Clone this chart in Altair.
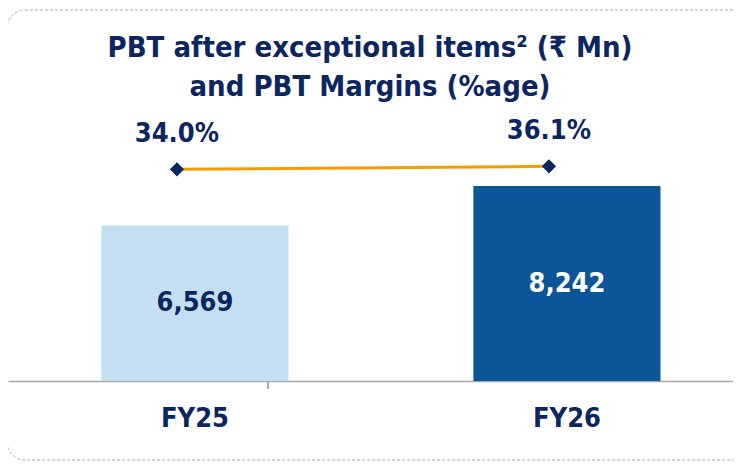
import altair as alt
import pandas as pd

years = ["FY25", "FY26"]
pbt = [6569, 8242]
pbt_labels = ["6,569", "8,242"]
margins = [34.0, 36.1]
margin_labels = ["34.0%", "36.1%"]
title_text = "PBT after exceptional items² (₹ Mn)\nand PBT Margins (%age)"

NAVY = "#0b2660"
FONT = "Liberation Sans Narrow, DejaVu Sans Condensed, Roboto, sans-serif"

bars_df = pd.DataFrame({"year": years, "pbt": pbt, "label": pbt_labels})
line_df = pd.DataFrame({"year": years, "margin": margins, "label": margin_labels})
title_df = pd.DataFrame({"t": [title_text]})

x_enc = alt.X(
    "year:N",
    sort=years,
    scale=alt.Scale(paddingInner=0.497, paddingOuter=0.223, align=0.563),
    axis=alt.Axis(
        title=None, labelAngle=0, ticks=False, domainColor="#a6a6a6", domainWidth=1.5,
        labelFont=FONT, labelFontSize=27, labelFontWeight="bold", labelColor=NAVY,
        labelPadding=24,
    ),
)
y_bar = alt.Y("pbt:Q", scale=alt.Scale(domain=[0, 10609]), axis=None)

bars = alt.Chart(bars_df).mark_bar().encode(
    x=x_enc,
    y=y_bar,
    color=alt.Color("year:N", scale=alt.Scale(domain=years, range=["#c5dff2", "#0a5699"]), legend=None),
)
bar_text = alt.Chart(bars_df).transform_calculate(mid="datum.pbt / 2").mark_text(
    font=FONT, fontSize=27, fontWeight="bold", baseline="middle"
).encode(
    x=alt.X("year:N", sort=years),
    y=alt.Y("mid:Q", scale=alt.Scale(domain=[0, 10609]), axis=None),
    text="label:N",
    color=alt.condition(alt.datum.year == "FY26", alt.value("white"), alt.value(NAVY)),
)

y_line = alt.Y("margin:Q", scale=alt.Scale(domain=[-114.4, 61.6]), axis=None)
line = alt.Chart(line_df).mark_line(color="#f59d00", strokeWidth=3, xOffset=-18).encode(
    x=alt.X("year:N", sort=years), y=y_line
)
pts = alt.Chart(line_df).mark_point(
    shape="diamond", filled=True, color=NAVY, size=200, opacity=1, xOffset=-18
).encode(x=alt.X("year:N", sort=years), y=y_line)
pt_text = alt.Chart(line_df).mark_text(
    font=FONT, fontSize=27, fontWeight="bold", color=NAVY, dy=-35, xOffset=-18, baseline="middle"
).encode(x=alt.X("year:N", sort=years), y=y_line, text="label:N")

border = alt.Chart(bars_df).mark_rect(
    fill=None, stroke="#c8c8c8", strokeWidth=1, strokeDash=[3, 2], cornerRadius=18
).encode(x=alt.value(-1), x2=alt.value(780), y=alt.value(-120), y2=alt.value(330))

tick = alt.Chart(bars_df).mark_rule(color="#a6a6a6", strokeWidth=1.5).encode(
    x=alt.value(260), y=alt.value(251), y2=alt.value(259)
)

title = alt.Chart(title_df).mark_text(
    font=FONT, fontSize=29, fontWeight="bold", color=NAVY, align="center",
    baseline="alphabetic", lineBreak="\n", lineHeight=39,
).encode(x=alt.value(362), y=alt.value(-73), text="t:N")

chart = (
    alt.layer(border, bars, bar_text, tick, line, pts, pt_text, title)
    .resolve_scale(y="independent")
    .properties(
        width=725,
        height=251,
        autosize=alt.AutoSizeParams(type="none"),
        padding={"top": 122, "left": 0, "right": 0, "bottom": 81},
    )
    .configure_view(stroke=None)
)

chart.save("out.html", embed_options={"renderer": "svg", "actions": False})
